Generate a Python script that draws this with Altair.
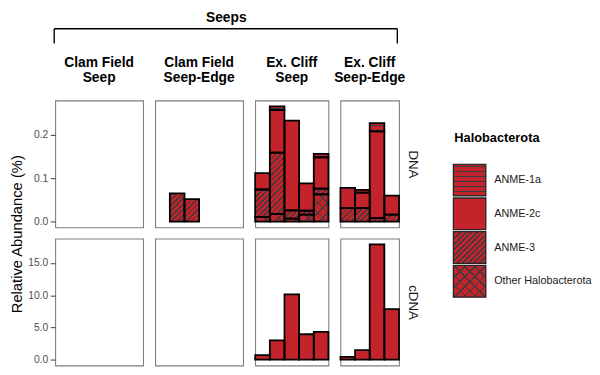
import altair as alt
import pandas as pd

# ---------------- data ----------------
sites = ["Clam Field Seep", "Clam Field Seep-Edge", "Ex. Cliff Seep", "Ex. Cliff Seep-Edge"]
site_titles = [["Clam Field", "Seep"], ["Clam Field", "Seep-Edge"], ["Ex. Cliff", "Seep"], ["Ex. Cliff", "Seep-Edge"]]
sample_counts = [6, 6, 5, 4]
taxa = ["ANME-1a", "ANME-2c", "ANME-3", "Other Halobacterota"]
nucleic = ["DNA", "cDNA"]

# relative abundance (%) per site, per sample
dna_anme1a = [[0, 0, 0, 0, 0, 0], [0, 0, 0, 0, 0, 0], [0, 0.009, 0, 0, 0.008], [0, 0.006, 0.019, 0]]
dna_anme2c = [[0, 0, 0, 0, 0, 0], [0, 0, 0, 0, 0, 0], [0.038, 0.098, 0.207, 0.063, 0.072], [0.047, 0.036, 0.200, 0.044]]
dna_anme3 = [[0, 0, 0, 0, 0, 0], [0, 0.065, 0.052, 0, 0, 0], [0.063, 0.141, 0.019, 0.009, 0.013], [0.031, 0.031, 0.008, 0.016]]
dna_other = [[0, 0, 0, 0, 0, 0], [0, 0, 0, 0, 0, 0], [0.011, 0.018, 0.007, 0.016, 0.063], [0, 0, 0, 0]]
cdna_anme2c = [[0, 0, 0, 0, 0, 0], [0, 0, 0, 0, 0, 0], [0.7, 3.0, 10.15, 3.95, 4.3], [0.45, 1.5, 17.88, 7.85]]

dna_ticks = [0, 0.1, 0.2]
cdna_ticks = [0, 5, 10, 15]

# ---------------- style / layout ----------------
RED = "#C3242B"
HATCH = "#3a3a42"
CLEAR = "rgba(0,0,0,0)"
FONT = "Liberation Sans"
SLOT = 14.9
PANEL_H = 129
COL_GAP = 11.7
ROW_GAP = 11.5
GRID_W = sum(sample_counts) * SLOT + 3 * COL_GAP

tables = {
    "DNA": {"ANME-1a": dna_anme1a, "ANME-2c": dna_anme2c, "ANME-3": dna_anme3, "Other Halobacterota": dna_other},
    "cDNA": {"ANME-2c": cdna_anme2c},
}
rank = {"Other Halobacterota": 0, "ANME-3": 1, "ANME-2c": 2, "ANME-1a": 3}
sample_names = [[f"{sites[i]} #{j + 1}" for j in range(sample_counts[i])] for i in range(4)]

rows = []
for t, tab in tables.items():
    for taxon, per_site in tab.items():
        for i in range(4):
            for j, v in enumerate(per_site[i]):
                rows.append({"type": t, "site": i, "sample": sample_names[i][j], "taxon": taxon,
                             "value": v, "rank": rank[taxon], "seg": f"{t}|{i}|{j}|{taxon}"})
df = pd.DataFrame(rows)

ydomain = {}
for t in nucleic:
    m = df[df.type == t].groupby("sample")["value"].sum().max()
    ydomain[t] = [-0.05 * m, 1.05 * m]


# ---------------- hatch gradients ----------------
def stripe_stops(D, period, lw, phase):
    stops = [{"offset": 0.0, "color": CLEAR}]
    c = phase
    while c - lw / 2 < D:
        a = max(0.0, (c - lw / 2) / D)
        b = min(1.0, (c + lw / 2) / D)
        if b > a:
            a, b = round(a, 4), round(b, 4)
            stops += [{"offset": a, "color": CLEAR}, {"offset": a, "color": HATCH},
                      {"offset": b, "color": HATCH}, {"offset": b, "color": CLEAR}]
        c += period
    stops.append({"offset": 1.0, "color": CLEAR})
    return stops


def diag(w, h, direction, period, lw, phase):
    D = w + h
    k = D / (w * w + h * h)
    if direction == "/":
        x1, y1, x2, y2 = 0, 0, w * k, h * k
    else:
        x1, y1, x2, y2 = 0, 1, w * k, 1 - h * k
    return {"gradient": "linear", "x1": x1, "y1": y1, "x2": round(x2, 5), "y2": round(y2, 5),
            "stops": stripe_stops(D, period, lw, phase)}


def horiz(h, period, lw):
    return {"gradient": "linear", "x1": 0, "y1": 0, "x2": 0, "y2": 1,
            "stops": stripe_stops(h, period, lw, period / 2)}


def patterns(taxon, w, h):
    if taxon == "ANME-3":
        return [diag(w, h, "/", 5.6, 1.9, 2.0)]
    if taxon == "Other Halobacterota":
        return [diag(w, h, "/", 10, 1.5, 3.0), diag(w, h, "\\", 10, 1.5, 3.0)]
    if taxon == "ANME-1a":
        return [horiz(h, 5.0, 1.5)]
    return []


axis_style = dict(grid=False, domain=False, tickColor="#4d4d4d", tickSize=5, tickWidth=1.1,
                  labelColor="#4d4d4d", labelFontSize=10.5, labelPadding=2.5, labelFont=FONT)


def panel(t, i):
    samples = sample_names[i]
    dom = ydomain[t]
    ppu = PANEL_H / (dom[1] - dom[0])
    x = alt.X("sample:N", scale=alt.Scale(domain=samples, paddingInner=0, paddingOuter=0), axis=None)
    if i == 0:
        if t == "DNA":
            axis = alt.Axis(values=dna_ticks, format=".1f", title="", **axis_style)
        else:
            axis = alt.Axis(values=cdna_ticks, format=".1f", title="Relative Abundance (%)",
                            titleX=-39.5, titleY=-5, titleAngle=270, titleAlign="center",
                            titleBaseline="middle", titleFontSize=15, titleFontWeight="normal",
                            titleColor="black", titleFont=FONT, **axis_style)
    elif i == 3:
        axis = alt.Axis(orient="right", labels=False, ticks=False, domain=False, grid=False, title=t,
                        titleX=14, titleY=PANEL_H / 2, titleAngle=90, titleAlign="center",
                        titleBaseline="middle", titleFontSize=13.5, titleFontWeight="normal",
                        titleColor="#1a1a1a", titleFont=FONT)
    else:
        axis = None
    y = alt.Y("y0:Q", scale=alt.Scale(domain=dom, nice=False, zero=False), axis=axis)
    enc = dict(x=x, y=y, y2="y1:Q")

    layers = [alt.Chart().mark_rect(fill=RED, strokeWidth=0).encode(**enc)]
    sub = df[(df.type == t) & (df.site == i) & (df.value > 0)]
    for _, r in sub.iterrows():
        for g in patterns(r["taxon"], SLOT, r["value"] * ppu):
            layers.append(alt.Chart().mark_rect(fill=g, strokeWidth=0).encode(**enc)
                          .transform_filter(f"datum.seg == '{r['seg']}'"))
    layers.append(alt.Chart().mark_rect(fill="transparent", stroke="black", strokeWidth=1.8).encode(**enc))

    ch = (alt.layer(*layers, data=df)
          .transform_filter(f"datum.type == '{t}' && datum.site == {i} && datum.value > 0")
          .transform_stack(stack="value", groupby=["sample"], as_=["y0", "y1"],
                           sort=[alt.SortField("rank", order="ascending")])
          .properties(width=sample_counts[i] * SLOT, height=PANEL_H))
    if t == "DNA":
        ch = ch.properties(title=alt.TitleParams(site_titles[i], fontSize=14, fontWeight="bold", font=FONT,
                                                 color="black", anchor="middle", frame="group",
                                                 offset=15.5, lineHeight=16))
    return ch


grid = alt.concat(*[panel(t, i) for t in nucleic for i in range(4)], columns=4,
                  spacing={"row": ROW_GAP, "column": COL_GAP}, bounds="flush")

# ---------------- header bracket ----------------
hdr = pd.DataFrame({"label": ["Seeps"]})
HDR_H = 35
BR_Y = 17
BR_Y2 = 32
header = alt.layer(
    alt.Chart(hdr).mark_text(fontWeight="bold", fontSize=14, font=FONT, baseline="middle", align="center",
                             color="black").encode(text="label:N", x=alt.value(GRID_W / 2), y=alt.value(6)),
    alt.Chart(hdr).mark_rule(stroke="black", strokeWidth=1.4).encode(
        x=alt.value(-1), x2=alt.value(GRID_W), y=alt.value(BR_Y)),
    alt.Chart(hdr).mark_rule(stroke="black", strokeWidth=1.4).encode(
        x=alt.value(-1), y=alt.value(BR_Y), y2=alt.value(BR_Y2)),
    alt.Chart(hdr).mark_rule(stroke="black", strokeWidth=1.4).encode(
        x=alt.value(GRID_W), y=alt.value(BR_Y), y2=alt.value(BR_Y2)),
).properties(width=GRID_W, height=HDR_H, view=alt.ViewBackground(stroke="transparent", strokeWidth=0))

left = alt.vconcat(header, grid, spacing=55, bounds="flush")

# ---------------- legend ----------------
leg = pd.DataFrame({"taxon": taxa})
KEY_W = 33
LEG_H = 290
STEP = 34.3
PI = 0.06
KEY_H = STEP * (1 - PI)
ly = alt.Y("taxon:N", scale=alt.Scale(domain=taxa, paddingInner=PI, paddingOuter=0,
                                      range=[LEG_H - STEP * (len(taxa) - PI), LEG_H]),
           axis=alt.Axis(orient="right", ticks=False, domain=False, grid=False, title="",
                         labelFontSize=11, labelColor="#1a1a1a", labelPadding=8, labelFont=FONT,
                         labelLimit=300))
lenc = dict(y=ly, x=alt.value(0), x2=alt.value(KEY_W))
leg_layers = [alt.Chart().mark_rect(fill=RED, strokeWidth=0).encode(**lenc)]
for tx in taxa:
    for g in patterns(tx, KEY_W, KEY_H):
        leg_layers.append(alt.Chart().mark_rect(fill=g, strokeWidth=0).encode(**lenc)
                          .transform_filter(f"datum.taxon == '{tx}'"))
leg_layers.append(alt.Chart().mark_rect(fill="transparent", stroke="#262626", strokeWidth=1.3).encode(**lenc))
leg_title = alt.Chart(pd.DataFrame({"label": ["Halobacterota"]})).mark_text(
    fontWeight="bold", fontSize=13, font=FONT, align="left", baseline="middle", color="black"
).encode(text="label:N", x=alt.value(1), y=alt.value(128))
legend = alt.layer(*leg_layers, data=leg).properties(
    width=KEY_W, height=LEG_H, view=alt.ViewBackground(stroke="transparent", strokeWidth=0))
legend = alt.layer(legend, leg_title)

chart = (alt.hconcat(left, legend, spacing=32)
         .properties(padding=0)
         .configure(font=FONT)
         .configure_view(stroke="#7f7f7f", strokeWidth=1.1))

chart.save("out.html", embed_options={"renderer": "svg", "actions": False})
